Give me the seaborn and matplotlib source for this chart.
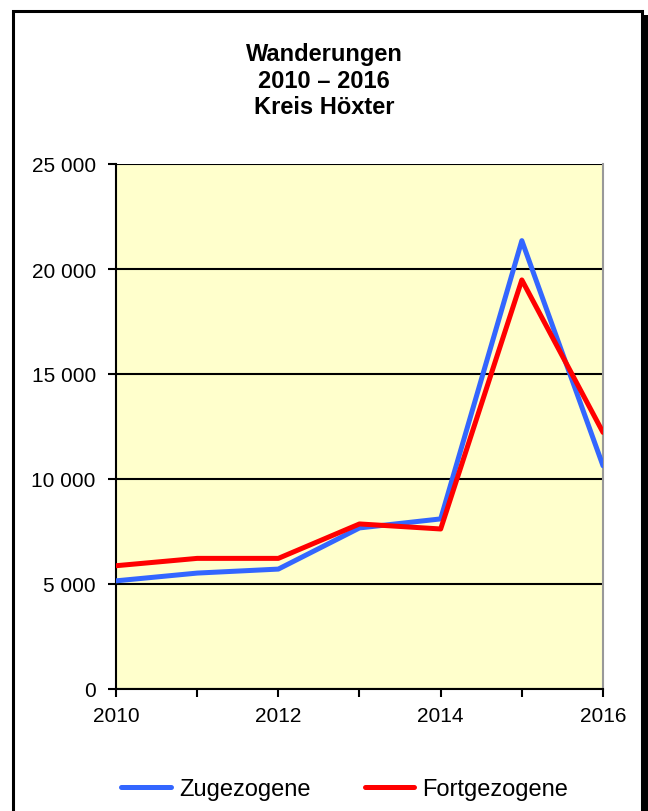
import numpy as np
import pandas as pd
import matplotlib
matplotlib.use("Agg")
import matplotlib.pyplot as plt
import seaborn as sns
from matplotlib.ticker import FuncFormatter, MultipleLocator
from matplotlib.patches import Rectangle
from matplotlib.lines import Line2D

# Daten
jahre = [2010, 2011, 2012, 2013, 2014, 2015, 2016]
zugezogene = [5150, 5520, 5710, 7670, 8100, 21350, 10630]
fortgezogene = [5870, 6220, 6220, 7860, 7620, 19480, 12220]

df = pd.DataFrame({"Jahr": jahre * 2,
                   "Wert": zugezogene + fortgezogene,
                   "Art": ["Zugezogene"] * 7 + ["Fortgezogene"] * 7})

sns.set_style("white")
plt.rcParams["font.family"] = ["Liberation Sans", "DejaVu Sans"]
plt.rcParams["text.color"] = "black"
plt.rcParams["xtick.color"] = "black"
plt.rcParams["ytick.color"] = "black"

farben = {"Zugezogene": "#3366FF", "Fortgezogene": "#FF0000"}

fig = plt.figure(figsize=(6.48, 8.12), dpi=100)
ax = fig.add_axes([116/648, 1-690/812, (603-116)/648, (690-165)/812])

sns.lineplot(data=df, x="Jahr", y="Wert", hue="Art", palette=farben,
             linewidth=3.6, ax=ax, legend=False, zorder=3)

ax.set_facecolor("#FFFFCC")
ax.set_xlim(2010, 2016)
ax.set_ylim(0, 25000)
ax.xaxis.set_major_locator(MultipleLocator(2))
ax.xaxis.set_minor_locator(MultipleLocator(1))
ax.yaxis.set_major_locator(MultipleLocator(5000))
ax.yaxis.set_major_formatter(FuncFormatter(lambda v, p: f"{int(v):,}".replace(",", " ")))
ax.grid(axis="y", color="black", linewidth=1.5, zorder=1)
ax.set_axisbelow(True)
ax.set_xlabel("")
ax.set_ylabel("")
for s in ax.spines.values():
    s.set_color("black")
    s.set_linewidth(1.5)
ax.spines["right"].set_color("#999999")
ax.spines["top"].set_visible(False)
ax.tick_params(axis="both", which="both", direction="out", length=6, width=1.5,
               color="black", labelsize=15, labelcolor="black", left=True, bottom=True)
ax.tick_params(axis="x", pad=6.5)
ax.tick_params(axis="y", pad=8.5)

# Titel
fig.text(0.5, 1-55/812, "Wanderungen", ha="center", va="center", fontsize=17, fontweight="bold")
fig.text(0.5, 1-82/812, "2010 – 2016", ha="center", va="center", fontsize=17, fontweight="bold")
fig.text(0.5, 1-108/812, "Kreis Höxter", ha="center", va="center", fontsize=17, fontweight="bold")

# Legende
handles = [Line2D([], [], color=farben[k], linewidth=3.6) for k in ["Zugezogene", "Fortgezogene"]]
fig.legend(handles, ["Zugezogene", "Fortgezogene"], loc="center", bbox_to_anchor=(0.532, 1-790/812),
           ncol=2, frameon=False, fontsize=17, handlelength=2.1, handletextpad=0.35, columnspacing=2.3)

# Rahmen mit Schatten
fig.patches.append(Rectangle((642/648, -0.01), 6/648, 1-16/812 + 0.01, transform=fig.transFigure,
                             facecolor="black", edgecolor="none", zorder=0))
fig.patches.append(Rectangle((13/648, -0.05), (642-13)/648, 1-12/812 + 0.05, transform=fig.transFigure,
                             facecolor="none", edgecolor="black", linewidth=2.2, zorder=1))

fig.savefig("out.png", dpi=100)
